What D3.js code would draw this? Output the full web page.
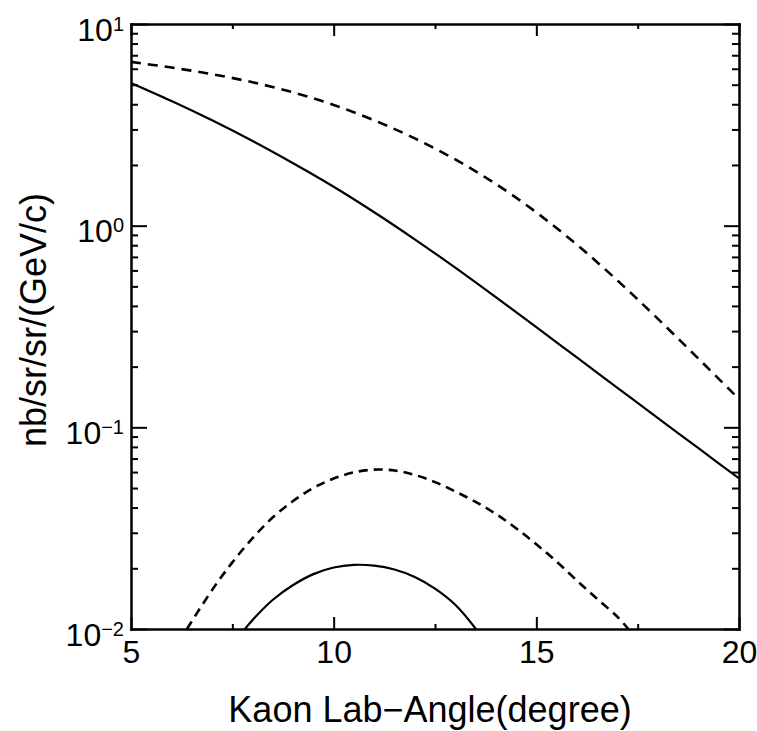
<!DOCTYPE html>
<html lang="en">
<head>
<meta charset="utf-8" />
<script src="https://d3js.org/d3.v7.min.js"></script>
<style>
  body { margin: 0; background: #fff; }
  text { font-family: "Liberation Sans", Arial, Helvetica, sans-serif; fill: #000; }
  .axis path, .axis line { stroke: #000; }
  .axis .domain { stroke-width: 2.5; stroke-linecap: square; }
  .axis line { stroke-width: 2; }
</style>
</head>
<body>
<script>
const w = 757;
const h = 731;
const margin = {top: 24, right: 18, bottom: 102, left: 131};

// upper pair of curves
const angleUpper = [5, 6, 7, 8, 9, 10, 11, 12, 13, 14, 15, 16, 17, 18, 19, 20];
const solidUpper = [5.10, 4.15, 3.33, 2.63, 2.04, 1.56, 1.166, 0.856, 0.619, 0.442, 0.314, 0.222, 0.157, 0.111, 0.0788, 0.0558];
const dashedUpper = [6.49, 6.08, 5.64, 5.14, 4.58, 3.97, 3.33, 2.71, 2.13, 1.61, 1.164, 0.805, 0.535, 0.345, 0.219, 0.138];

// lower pair of curves
const angleLowerDashed = [6.38, 7, 7.5, 8, 8.5, 9, 9.5, 10, 10.5, 11, 11.5, 12, 12.5, 13, 13.5, 14, 14.5, 15, 15.5, 16, 16.5, 17, 17.27];
const dashedLower = [0.0100, 0.0156, 0.0214, 0.0282, 0.0358, 0.0431, 0.0501, 0.0557, 0.0598, 0.0617, 0.0611, 0.0581,
    0.0535, 0.0481, 0.0427, 0.0372, 0.0316, 0.0263, 0.0216, 0.0174, 0.0141, 0.0115, 0.0100];
const angleLowerSolid = [7.81, 8, 8.5, 9, 9.5, 10, 10.5, 11, 11.5, 12, 12.5, 13, 13.51];
const solidLower = [0.0100, 0.01109, 0.01396, 0.01652, 0.01871, 0.02018, 0.0208, 0.02061, 0.01972, 0.01811, 0.01585, 0.01318, 0.0100];

const xTicks = [5, 10, 15, 20];
const xMinorTicks = [7.5, 12.5, 17.5];
const yTicks = [0.01, 0.1, 1, 10];
const yTickExponents = ["\u22122", "\u22121", "0", "1"];

const xLabel = "Kaon Lab\u2212Angle(degree)";
const yLabel = "nb/sr/sr/(GeV/c)";

// minor log ticks 2..9 in each decade
const yMinorTicks = [];
[0.01, 0.1, 1].forEach(d => {
    for (let k = 2; k <= 9; k++) yMinorTicks.push(d * k);
});

const x = d3.scaleLinear().domain([5, 20]).range([margin.left, w - margin.right]);
const y = d3.scaleLog().domain([0.01, 10]).range([h - margin.bottom, margin.top]);

const svg = d3.select("body")
    .append("svg")
    .attr("width", w)
    .attr("height", h);

svg.append("clipPath")
    .attr("id", "plot-clip")
    .append("rect")
    .attr("x", x(5))
    .attr("y", y(10))
    .attr("width", x(20) - x(5))
    .attr("height", y(0.01) - y(10));

const line = d3.line()
    .x(d => x(d[0]))
    .y(d => y(d[1]))
    .curve(d3.curveCatmullRom.alpha(0.5));

const curves = [
    {xs: angleUpper, ys: solidUpper, dash: null, width: 2.2},
    {xs: angleUpper, ys: dashedUpper, dash: "10,7", width: 2.6},
    {xs: angleLowerDashed, ys: dashedLower, dash: "9,6", width: 2.6},
    {xs: angleLowerSolid, ys: solidLower, dash: null, width: 2.2}
];

svg.append("g")
    .attr("clip-path", "url(#plot-clip)")
    .selectAll("path")
    .data(curves)
    .enter()
    .append("path")
    .attr("fill", "none")
    .attr("stroke", "#000")
    .attr("stroke-width", d => d.width)
    .attr("stroke-dasharray", d => d.dash)
    .attr("d", d => line(d.xs.map((v, i) => [v, d.ys[i]])));

// x axes
svg.append("g")
    .attr("class", "axis")
    .attr("transform", "translate(0," + y(0.01) + ")")
    .call(d3.axisBottom(x).tickValues(xTicks).tickSizeInner(-12).tickSizeOuter(0)
        .tickPadding(11).tickFormat(d3.format("d")))
    .call(g => g.selectAll("text").style("font-size", "32px"));

svg.append("g")
    .attr("class", "axis")
    .attr("transform", "translate(0," + y(0.01) + ")")
    .call(d3.axisBottom(x).tickValues(xMinorTicks).tickSize(-5).tickFormat(""))
    .call(g => g.select(".domain").remove());

svg.append("g")
    .attr("class", "axis")
    .attr("transform", "translate(0," + y(10) + ")")
    .call(d3.axisTop(x).tickValues(xTicks).tickSizeInner(-12).tickSizeOuter(0).tickFormat(""));

svg.append("g")
    .attr("class", "axis")
    .attr("transform", "translate(0," + y(10) + ")")
    .call(d3.axisTop(x).tickValues(xMinorTicks).tickSize(-5).tickFormat(""))
    .call(g => g.select(".domain").remove());

// y axes
svg.append("g")
    .attr("class", "axis")
    .attr("transform", "translate(" + x(5) + ",0)")
    .call(d3.axisLeft(y).tickValues(yTicks).tickSizeInner(-16).tickSizeOuter(0).tickPadding(7))
    .call(g => g.selectAll("text").each(function (d, i) {
        const t = d3.select(this).text("").attr("dy", 16);
        t.append("tspan").style("font-size", "32px").text("10");
        t.append("tspan").style("font-size", "20px").attr("dy", -10).text(yTickExponents[i]);
    }));

svg.append("g")
    .attr("class", "axis")
    .attr("transform", "translate(" + x(5) + ",0)")
    .call(d3.axisLeft(y).tickValues(yMinorTicks).tickSize(-7).tickFormat(""))
    .call(g => g.select(".domain").remove());

svg.append("g")
    .attr("class", "axis")
    .attr("transform", "translate(" + x(20) + ",0)")
    .call(d3.axisRight(y).tickValues(yTicks).tickSizeInner(-15).tickSizeOuter(0).tickFormat(""));

svg.append("g")
    .attr("class", "axis")
    .attr("transform", "translate(" + x(20) + ",0)")
    .call(d3.axisRight(y).tickValues(yMinorTicks).tickSize(-7).tickFormat(""))
    .call(g => g.select(".domain").remove());

// axis titles
svg.append("text")
    .attr("x", 430)
    .attr("y", 722)
    .attr("text-anchor", "middle")
    .style("font-size", "36px")
    .text(xLabel);

svg.append("text")
    .attr("transform", "translate(46,320) rotate(-90)")
    .attr("text-anchor", "middle")
    .style("font-size", "36px")
    .text(yLabel);
</script>
</body>
</html>
